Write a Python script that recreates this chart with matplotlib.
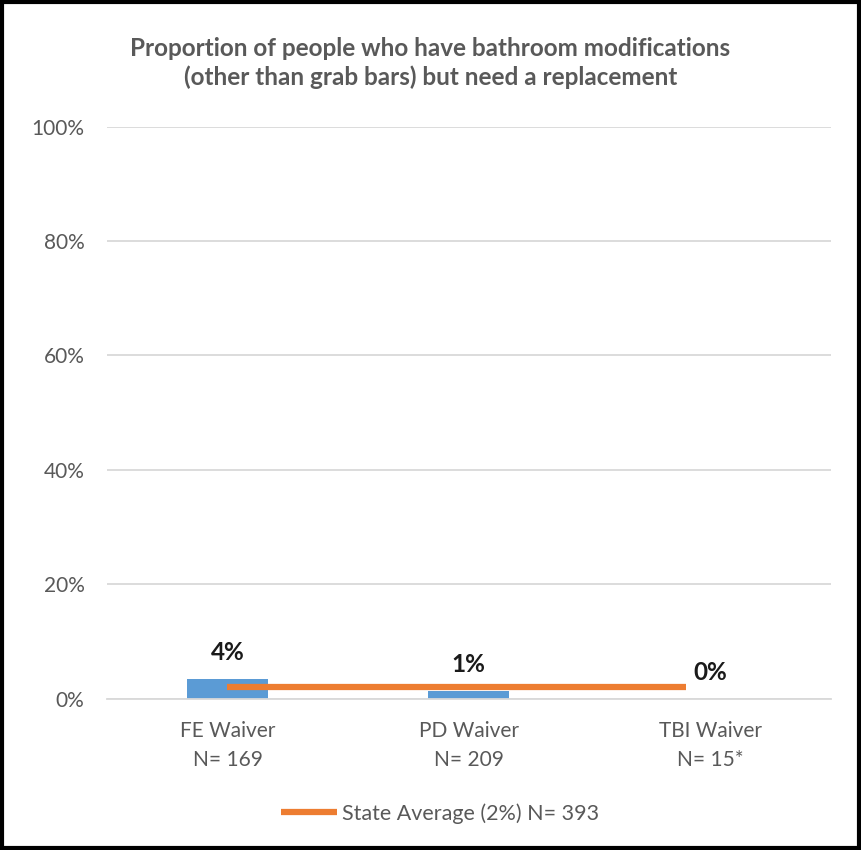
import matplotlib.pyplot as plt
import numpy as np

# chart data
categories = ['FE Waiver\nN= 169', 'PD Waiver\nN= 209', 'TBI Waiver\nN= 15*']
values = [3.4, 1.3, 0.0]
value_labels = ['4%', '1%', '0%']
state_avg = [2.1, 2.1]
state_label = 'State Average (2%) N= 393'
yticks = [0, 20, 40, 60, 80, 100]

plt.rcParams['font.family'] = ['Lato', 'DejaVu Sans']

fig = plt.figure(figsize=(8.61, 8.5), dpi=100)
ax = fig.add_axes([0.124, 0.178, 0.841, 0.673])

x = np.arange(len(categories))
ax.bar(x, values, width=0.335, color='#5B9BD5', zorder=2)

# state average line (runs from the first category to just short of the last)
ax.plot([x[0], x[-1] - 0.1], state_avg, color='#ED7D31', linewidth=4.5,
        solid_capstyle='butt', zorder=3, label=state_label)

for xi, v, lab in zip(x, values, value_labels):
    ax.text(xi, v + 4.6, lab, ha='center', va='center', fontsize=17.5,
            fontweight='bold', color='#1a1a1a')

ax.set_xlim(-0.5, 2.5)
ax.set_ylim(0, 100)
ax.set_yticks(yticks)
ax.set_yticklabels([f'{t}%' for t in yticks])
ax.set_xticks(x)
ax.set_xticklabels(categories, linespacing=1.55)
ax.tick_params(axis='both', length=0, colors='#595959')
ax.tick_params(axis='y', pad=16, labelsize=15)
ax.tick_params(axis='x', pad=16, labelsize=15)
ax.grid(axis='y', color='#d9d9d9', linewidth=1.3, zorder=0)
for s in ['top', 'right', 'left']:
    ax.spines[s].set_visible(False)
ax.spines['bottom'].set_color('#d9d9d9')
ax.spines['bottom'].set_linewidth(1.3)

fig.text(0.5, 0.926, 'Proportion of people who have bathroom modifications\n'
         '(other than grab bars) but need a replacement',
         ha='center', va='center', fontsize=17.5, fontweight='bold',
         color='#595959', linespacing=1.3)

fig.legend(loc='center', bbox_to_anchor=(0.511, 0.043), frameon=False,
           fontsize=15.5, labelcolor='#595959', handlelength=2.6,
           handletextpad=0.2)

# outer black frame
fig.patches.append(plt.Rectangle((0.002, 0.002), 0.996, 0.996,
                                 transform=fig.transFigure, fill=False,
                                 edgecolor='black', linewidth=3))

fig.savefig('out.png', dpi=100)
